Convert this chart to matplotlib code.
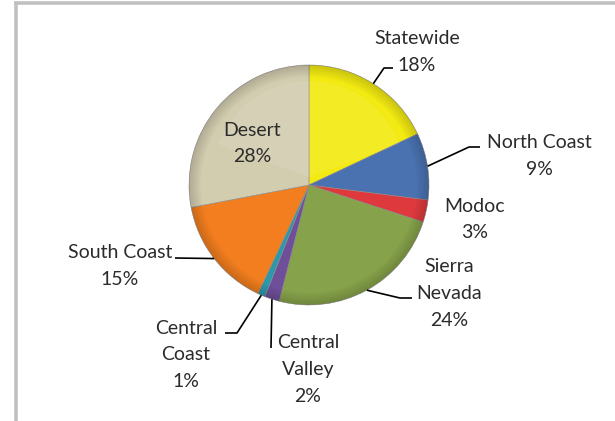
import numpy as np
import matplotlib
matplotlib.use("Agg")
import matplotlib.pyplot as plt
from matplotlib.patches import Wedge

# Share of funding by region
regions = ["Statewide", "North Coast", "Modoc", "Sierra Nevada",
           "Central Valley", "Central Coast", "South Coast", "Desert"]
shares = [18, 9, 3, 24, 2, 1, 15, 28]
colors = ["#F2EA12", "#4A72B0", "#DE3A3E", "#86A24A",
          "#6F4F9A", "#2F97AA", "#F27E1F", "#D3CDB0"]

# label lines (the last line is the percentage) and where the first line sits
label_lines = [["Statewide"], ["North Coast"], ["Modoc"], ["Sierra", "Nevada"],
               ["Central", "Valley"], ["Central", "Coast"], ["South Coast"], ["Desert"]]
label_pos = [(417, 39), (539, 143), (475, 206), (449, 267),
             (308, 343), (186, 328), (120, 253), (252, 130)]
# leader lines: knee point and end point next to the text (None = no leader)
leader_knee = [(384, 68), (469, 147), None, (400, 298),
               None, (237, 333), None, None]
leader_end = [(393, 68), (480, 147), None, (412, 298),
              (271, 348), (225, 333), (175, 258), None]

W, H = 615, 421
cx, cy, R = 309, 185, 120
line_step = 26.7

fig = plt.figure(figsize=(W / 100, H / 100), dpi=100)
ax = fig.add_axes([0, 0, 1, 1])

wedges, _ = ax.pie(shares, colors=colors, startangle=270, counterclock=True,
                   center=(cx, cy), radius=R,
                   wedgeprops=dict(edgecolor="#8a8a8a", linewidth=0.4))
ax.set_xlim(0, W)
ax.set_ylim(H, 0)
ax.set_aspect("equal")
ax.axis("off")

# soft bevel: darker towards the rim
n_rings = 10
for i in range(n_rings):
    r_out = R - i * 1.2
    ax.add_patch(Wedge((cx, cy), r_out, 0, 360, width=1.2,
                       facecolor="black", edgecolor="none",
                       alpha=0.16 * (1 - i / n_rings)))
# light sheen on the upper half
ax.add_patch(Wedge((cx, cy - 8), R * 0.8, 200, 340, width=R * 0.8,
                   facecolor="white", edgecolor="none", alpha=0.08))

txt_color = "#2b2b2b"
for w, lines, v, (tx, ty), knee, end in zip(wedges, label_lines, shares,
                                             label_pos, leader_knee, leader_end):
    for k, s in enumerate(lines + [f"{v}%"]):
        ax.text(tx, ty + k * line_step, s, ha="center", va="center",
                fontsize=14, family="Lato", color=txt_color)
    if end is None:
        continue
    th = np.deg2rad((w.theta1 + w.theta2) / 2)
    ex, ey = cx + R * np.cos(th), cy + R * np.sin(th)
    pts = [(ex, ey)] + ([knee] if knee else []) + [end]
    xs, ys = zip(*pts)
    ax.plot(xs, ys, color="black", lw=1.2, solid_capstyle="butt")

# frame at the top and left
ax.plot([14, W], [3, 3], color="#c0c0c0", lw=2.6, solid_capstyle="butt")
ax.plot([15.5, 15.5], [1.7, H], color="#c0c0c0", lw=2.6, solid_capstyle="butt")

fig.savefig("out.png", dpi=100)
